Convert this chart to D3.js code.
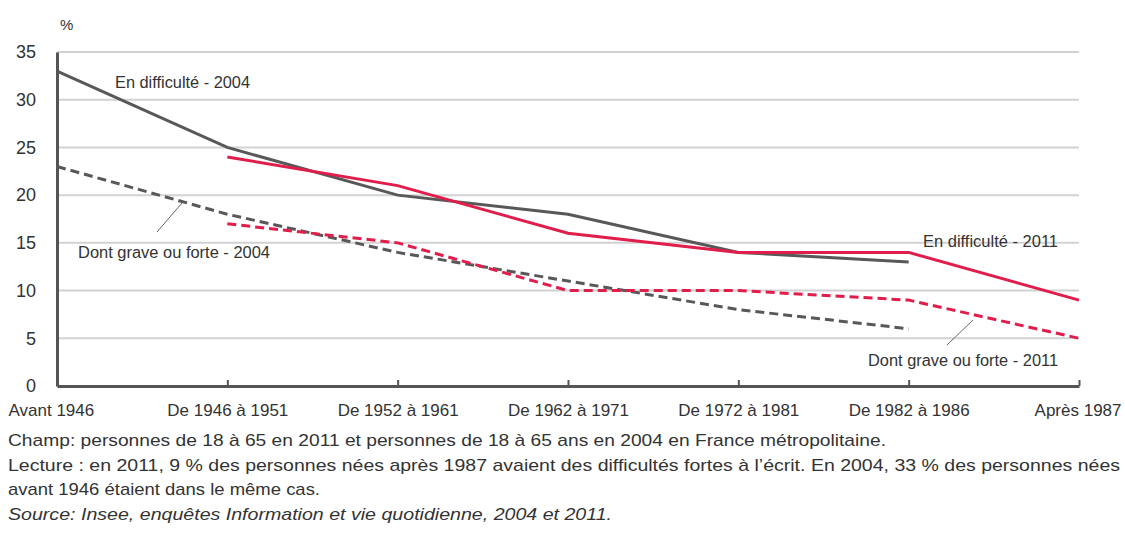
<!DOCTYPE html>
<html><head><meta charset="utf-8">
<script src="https://cdn.jsdelivr.net/npm/d3@7"></script>
<style>
body{margin:0;background:#fff;}
text{font-family:"Liberation Sans Narrow","Arial Narrow","Liberation Sans",Arial,sans-serif;fill:#333;}
</style></head><body>
<svg id="c" width="1125" height="546"></svg>
<script>
const categories = ["Avant 1946","De 1946 à 1951","De 1952 à 1961","De 1962 à 1971","De 1972 à 1981","De 1982 à 1986","Après 1987"];
const diff2004 = [33, 25, 20, 18, 14, 13, null];
const diff2011 = [null, 24, 21, 16, 14, 14, 9];
const grave2004 = [23, 18, 14, 11, 8, 6, null];
const grave2011 = [null, 17, 15, 10, 10, 9, 5];
const yTicks = [0,5,10,15,20,25,30,35];
const notes = [
 "Champ: personnes de 18 à 65 en 2011 et personnes de 18 à 65 ans en 2004 en France métropolitaine.",
 "Lecture : en 2011, 9 % des personnes nées après 1987 avaient des difficultés fortes à l’écrit. En 2004, 33 % des personnes nées",
 "avant 1946 étaient dans le même cas.",
 "Source: Insee, enquêtes Information et vie quotidienne, 2004 et 2011."
];

const svg = d3.select("#c");
const x = d3.scalePoint().domain(categories).range([57,1079]);
const y = d3.scaleLinear().domain([0,35]).range([386,52]);
const grey = "#585858", red = "#e11d4b";

// gridlines
svg.append("g").selectAll("line").data(yTicks.filter(d=>d>0)).join("line")
  .attr("x1",57).attr("x2",1079).attr("y1",d=>y(d)).attr("y2",d=>y(d))
  .attr("stroke","#d2d2d2").attr("stroke-width",2);

// y axis
const ya = svg.append("g").attr("transform","translate(57,0)")
  .call(d3.axisLeft(y).tickValues(yTicks).tickSize(0).tickPadding(21));
ya.select(".domain").attr("stroke","#555").attr("stroke-width",3);
ya.selectAll("text").style("font-size","18px").attr("fill","#333").style("font-family","'Liberation Sans',Arial,sans-serif");

// x axis
const xa = svg.append("g").attr("transform","translate(0,386)")
  .call(d3.axisBottom(x).tickSizeInner(-6).tickSizeOuter(0).tickPadding(18));
xa.select(".domain").attr("stroke","#555").attr("stroke-width",3);
xa.selectAll(".tick line").attr("stroke","#555").attr("stroke-width",2);
xa.selectAll("text").style("font-size","17px").attr("fill","#333");
xa.selectAll(".tick").filter(d=>d===categories[categories.length-1]).select("text").attr("text-anchor","end").attr("x",42);
xa.selectAll(".tick").filter(d=>d===categories[0]).select("text").attr("text-anchor","start").attr("x",-49);

svg.append("text").attr("x",60).attr("y",30).text("%").style("font-size","15px");

const line = d3.line().defined(d=>d.v!==null).x(d=>x(d.c)).y(d=>y(d.v));
function series(vals, color, dash){
  svg.append("path").datum(vals.map((v,i)=>({c:categories[i],v})))
    .attr("d",line).attr("fill","none").attr("stroke",color).attr("stroke-width",3)
    .attr("stroke-dasharray",dash||null);
}
series(grave2004, grey, "9,5");
series(grave2011, red, "9,5");
series(diff2004, grey);
series(diff2011, red);

// labels
function lab(t,xx,yy,w){svg.append("text").attr("x",xx).attr("y",yy).text(t).style("font-size","16px").attr("fill","#333")
  .attr("textLength",w).attr("lengthAdjust","spacingAndGlyphs");}
lab("En difficulté - 2004",115,88,135);
lab("Dont grave ou forte - 2004",78,258,192);
lab("En difficulté - 2011",923,247,135);
lab("Dont grave ou forte - 2011",868,366,190);
svg.append("line").attr("x1",157).attr("y1",232).attr("x2",182).attr("y2",203).attr("stroke","#666").attr("stroke-width",1);
svg.append("line").attr("x1",947).attr("y1",345).attr("x2",973).attr("y2",320).attr("stroke","#666").attr("stroke-width",1);

// notes
const ny=[446,471,495,520], nw=[878,1112,312,604];
notes.forEach((t,i)=>{
  svg.append("text").attr("x",8).attr("y",ny[i]).text(t).style("font-size","17px")
   .attr("textLength",nw[i]).attr("lengthAdjust","spacingAndGlyphs")
   .style("font-style", i===3?"italic":"normal");
});
</script></body></html>
